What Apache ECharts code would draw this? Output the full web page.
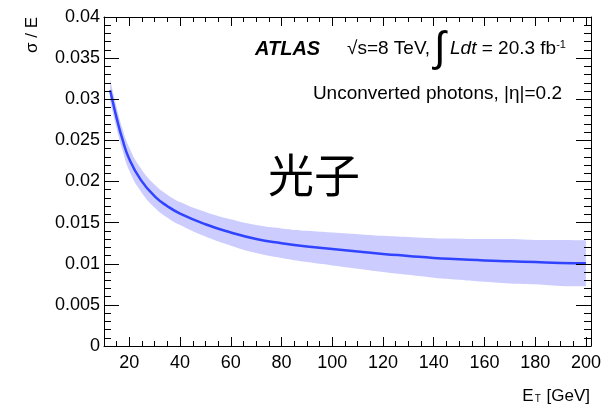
<!DOCTYPE html>
<html>
<head>
<meta charset="utf-8">
<script src="https://cdn.jsdelivr.net/npm/echarts@6/dist/echarts.min.js"></script>
<style>
  html, body { margin: 0; padding: 0; background: #fff; }
  #chart { width: 604px; height: 404px; }
</style>
</head>
<body>
<div id="chart"></div>
<script>
// Photon transverse energy (GeV)
const energy = [12.4, 13.3, 15, 17.2, 20, 24.5, 30, 35, 40, 50, 60, 70, 80, 90, 100,
                110, 120, 130, 140, 150, 160, 170, 180, 190, 200];
// Relative energy resolution sigma/E (central curve)
const resolution = [0.0311, 0.0299, 0.0277, 0.0252, 0.0227, 0.0202, 0.0182, 0.0170, 0.0161,
                    0.0148, 0.0138, 0.0130, 0.0125, 0.0121, 0.0118, 0.0115, 0.0112, 0.01095,
                    0.0107, 0.01055, 0.0104, 0.0103, 0.0102, 0.0101, 0.01005];
// Uncertainty band edges
const bandLower = [0.0298, 0.0286, 0.0264, 0.0239, 0.0213, 0.0188, 0.0168, 0.0156, 0.0147,
                   0.0133, 0.0122, 0.0113, 0.0107, 0.0102, 0.0098, 0.0094, 0.0090, 0.00865,
                   0.0083, 0.00805, 0.0078, 0.0076, 0.0075, 0.0073, 0.00725];
const bandUpper = [0.0324, 0.0312, 0.0290, 0.0265, 0.0241, 0.0216, 0.0196, 0.0184, 0.0175,
                   0.0163, 0.0154, 0.0147, 0.0143, 0.0140, 0.0138, 0.0136, 0.0134, 0.01325,
                   0.0131, 0.01305, 0.0130, 0.0130, 0.0129, 0.0129, 0.01285];
// Axis tick positions
const xMajorTicks = [20, 40, 60, 80, 100, 120, 140, 160, 180, 200];
const xMinorTicks = [15, 20, 25, 30, 35, 40, 45, 50, 55, 60, 65, 70, 75, 80, 85, 90, 95, 100,
                     105, 110, 115, 120, 125, 130, 135, 140, 145, 150, 155, 160, 165, 170,
                     175, 180, 185, 190, 195, 200];

const FONT = '"Liberation Sans", Arial, Helvetica, sans-serif';
const X_MIN = 10, X_MAX = 202;
const BAND_COLOR = '#ccccff';

function xAxisDef(position, ticks, len, showLine, showLabels) {
  return {
    type: 'value', position: position, min: X_MIN, max: X_MAX, z: 10,
    axisLine: { show: showLine, onZero: false, lineStyle: { color: '#000', width: 1 } },
    axisTick: { show: true, inside: true, length: len, customValues: ticks,
                lineStyle: { color: '#000', width: 1 } },
    axisLabel: showLabels
      ? { show: true, customValues: xMajorTicks, fontSize: 18, color: '#000',
          fontFamily: FONT, margin: 8 }
      : { show: false },
    splitLine: { show: false }
  };
}

function yAxisDef(position, showLabels) {
  return {
    type: 'value', position: position, min: 0, max: 0.04, interval: 0.005, z: 10,
    axisLine: { show: true, onZero: false, lineStyle: { color: '#000', width: 1 } },
    axisTick: { show: true, inside: true, length: 15, lineStyle: { color: '#000', width: 1 } },
    minorTick: { show: true, splitNumber: 5, length: 7, lineStyle: { color: '#000', width: 1 } },
    axisLabel: showLabels
      ? { show: true, fontSize: 18, color: '#000', fontFamily: FONT, margin: 4,
          formatter: v => String(+v.toFixed(3)) }
      : { show: false },
    splitLine: { show: false }
  };
}

const chart = echarts.init(document.getElementById('chart'), null, { renderer: 'canvas' });

chart.setOption({
  animation: false,
  backgroundColor: '#fff',
  grid: { left: 104, right: 13, top: 17, bottom: 58, containLabel: false },
  xAxis: [
    xAxisDef('bottom', xMajorTicks, 9, true, true),
    xAxisDef('bottom', xMinorTicks, 5, false, false),
    xAxisDef('top', xMajorTicks, 9, true, false),
    xAxisDef('top', xMinorTicks, 5, false, false)
  ],
  yAxis: [
    yAxisDef('left', true),
    yAxisDef('right', false)
  ],
  series: [
    {
      // upper edge of the band, filled down to the axis
      name: 'band-upper', type: 'line', smooth: true, symbol: 'none', silent: true, z: 2,
      xAxisIndex: 0, yAxisIndex: 0,
      lineStyle: { width: 0, opacity: 0 },
      areaStyle: { color: BAND_COLOR, opacity: 1, origin: 'start' },
      data: energy.map((e, i) => [e, bandUpper[i]])
    },
    {
      // lower edge of the band, cleared back to the background below it
      name: 'band-lower', type: 'line', smooth: true, symbol: 'none', silent: true, z: 3,
      xAxisIndex: 0, yAxisIndex: 0,
      lineStyle: { width: 0, opacity: 0 },
      areaStyle: { color: '#ffffff', opacity: 1, origin: 'start' },
      data: energy.map((e, i) => [e, bandLower[i]])
    },
    {
      name: 'resolution', type: 'line', smooth: true, symbol: 'none', silent: true, z: 4,
      xAxisIndex: 0, yAxisIndex: 0,
      lineStyle: { color: '#3043ff', width: 2.5 },
      data: energy.map((e, i) => [e, resolution[i]])
    }
  ],
  graphic: [
    { type: 'text', x: 32, y: 17, rotation: Math.PI / 2, z: 100,
      style: { text: 'σ / E', font: '17px ' + FONT, fill: '#000', align: 'right', verticalAlign: 'middle' } },
    { type: 'text', x: 590, y: 396, z: 100,
      style: { text: 'E{sub|T} [GeV]', font: '17px ' + FONT, fill: '#000', align: 'right', verticalAlign: 'middle',
               rich: { sub: { fontSize: 10, fontFamily: FONT, fill: '#000', verticalAlign: 'bottom', padding: [0, 1, 0, 1] } } } },
    { type: 'text', x: 255, y: 49, z: 100,
      style: { text: 'ATLAS', font: 'italic bold 20px ' + FONT, fill: '#000', align: 'left', verticalAlign: 'middle' } },
    { type: 'text', x: 347, y: 49, z: 100,
      style: { text: '√s=8 TeV,', font: '19px ' + FONT, fill: '#000', align: 'left', verticalAlign: 'middle' } },
    { type: 'text', x: 434, y: 49, z: 100,
      style: { text: '∫', font: '42px ' + FONT, fill: '#000', align: 'left', verticalAlign: 'middle' } },
    { type: 'text', x: 450, y: 49, z: 100,
      style: { text: '{it|Ldt} = 20.3 fb{sup|-1}', font: '19px ' + FONT, fill: '#000', align: 'left', verticalAlign: 'middle',
               rich: { it: { fontStyle: 'italic', fontSize: 19, fontFamily: FONT, fill: '#000' },
                       sup: { fontSize: 11, fontFamily: FONT, fill: '#000', verticalAlign: 'top' } } } },
    { type: 'text', x: 562, y: 94, z: 100,
      style: { text: 'Unconverted photons, |η|=0.2', font: '19px ' + FONT, fill: '#000', align: 'right', verticalAlign: 'middle' } },
    { type: 'text', x: 314, y: 175, z: 100,
      style: { text: '光子', font: '46px "Noto Sans CJK SC", sans-serif', fill: '#000', align: 'center', verticalAlign: 'middle' } }
  ]
});
</script>
</body>
</html>
